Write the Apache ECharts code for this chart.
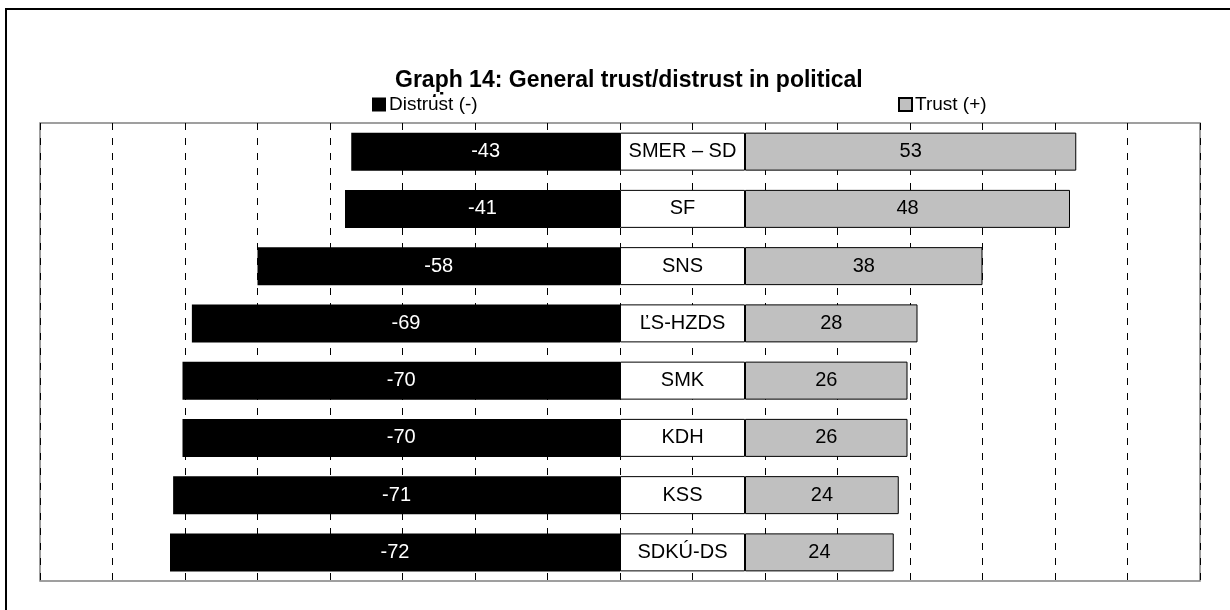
<!DOCTYPE html>
<html style="height: 100%;">
<head>
    <meta charset="UTF-8">
    <title>Graph 14</title>
    <script src="https://cdn.jsdelivr.net/npm/echarts@6/dist/echarts.min.js"></script>
    <style>
        body { margin: 0; background: #fff; }
        #container { width: 1230px; height: 610px; }
    </style>
</head>
<body>
<div id="container"></div>
<script type="text/javascript">
    // parties, top to bottom
    var parties = ['SMER \u2013 SD', 'SF', 'SNS', '\u013dS-HZDS', 'SMK', 'KDH', 'KSS', 'SDK\u00da-DS'];
    // printed values
    var distrustText = [-43, -41, -58, -69, -70, -70, -71, -72];
    var trustText = [53, 48, 38, 28, 26, 26, 24, 24];
    // bar lengths as drawn in the picture
    var distrustBar = [-43, -44, -58, -68.5, -70, -70, -71.5, -72];
    var trustBar = [53, 52, 38, 27.6, 26, 26, 24.6, 23.8];
    // width of the white name box (axis units)
    var nameBox = [20, 20, 20, 20, 20, 20, 20, 20];

    var font = 'Liberation Sans, Arial, sans-serif';
    var myChart = echarts.init(document.getElementById('container'));

    var option = {
        backgroundColor: '#fff',
        animation: false,
        title: {
            text: 'Graph 14: General trust/distrust in political\nparties',
            left: 390,
            top: 64,
            textStyle: {
                fontFamily: font,
                fontSize: 23,
                fontWeight: 'bold',
                color: '#000',
                lineHeight: 23
            }
        },
        graphic: [
            {   // hides most of the title's second line, as in the original
                type: 'rect',
                z: 50,
                shape: { x: 380, y: 97, width: 500, height: 25 },
                style: { fill: '#fff' }
            },
            {
                type: 'rect',
                z: 100,
                silent: true,
                shape: { x: 6, y: 9, width: 1400, height: 800 },
                style: { fill: 'none', stroke: '#000', lineWidth: 2 }
            }
        ],
        legend: [
            {
                data: ['Distrust (-)'],
                left: 367,
                top: 90,
                z: 60,
                icon: 'rect',
                itemWidth: 14,
                itemHeight: 14,
                itemGap: 4,
                textStyle: { fontFamily: font, fontSize: 19, color: '#000', padding: [0, 0, 0, -2] },
                selectedMode: false
            },
            {
                data: ['Trust (+)'],
                left: 893,
                top: 90,
                z: 60,
                icon: 'rect',
                itemWidth: 13,
                itemHeight: 13,
                textStyle: { fontFamily: font, fontSize: 19, color: '#000', padding: [0, 0, 0, -2] },
                selectedMode: false
            }
        ],
        grid: {
            left: 40,
            right: 30,
            top: 123,
            bottom: 29,
            show: true,
            borderColor: '#808080',
            borderWidth: 1.5,
            containLabel: false
        },
        xAxis: {
            type: 'value',
            min: -92.8,
            max: 92.8,
            interval: 11.6,
            axisLine: { show: false },
            axisTick: { show: false },
            axisLabel: { show: false },
            splitLine: {
                show: true,
                lineStyle: { color: '#000', width: 1, type: [7, 8] }
            }
        },
        yAxis: {
            type: 'category',
            inverse: true,
            data: parties,
            axisLine: { show: false },
            axisTick: { show: false },
            axisLabel: { show: false },
            splitLine: { show: false }
        },
        series: [
            {
                name: 'Distrust (-)',
                type: 'bar',
                stack: 'all',
                barWidth: 38,
                data: distrustBar,
                itemStyle: { color: '#000' },
                label: {
                    show: true,
                    position: 'inside',
                    color: '#fff',
                    fontFamily: font,
                    fontSize: 20,
                    formatter: function (p) { return distrustText[p.dataIndex]; }
                }
            },
            {
                name: 'name',
                type: 'bar',
                stack: 'all',
                barWidth: 38,
                data: nameBox,
                itemStyle: { color: '#fff', borderColor: '#000', borderWidth: 1 },
                label: {
                    show: true,
                    position: 'inside',
                    color: '#000',
                    fontFamily: font,
                    fontSize: 20,
                    formatter: function (p) { return parties[p.dataIndex]; }
                }
            },
            {
                name: 'Trust (+)',
                type: 'bar',
                stack: 'all',
                barWidth: 38,
                data: trustBar,
                itemStyle: { color: '#c0c0c0', borderColor: '#000', borderWidth: 1 },
                label: {
                    show: true,
                    position: 'inside',
                    color: '#000',
                    fontFamily: font,
                    fontSize: 20,
                    formatter: function (p) { return trustText[p.dataIndex]; }
                }
            }
        ]
    };
    myChart.setOption(option);
</script>
</body>
</html>
